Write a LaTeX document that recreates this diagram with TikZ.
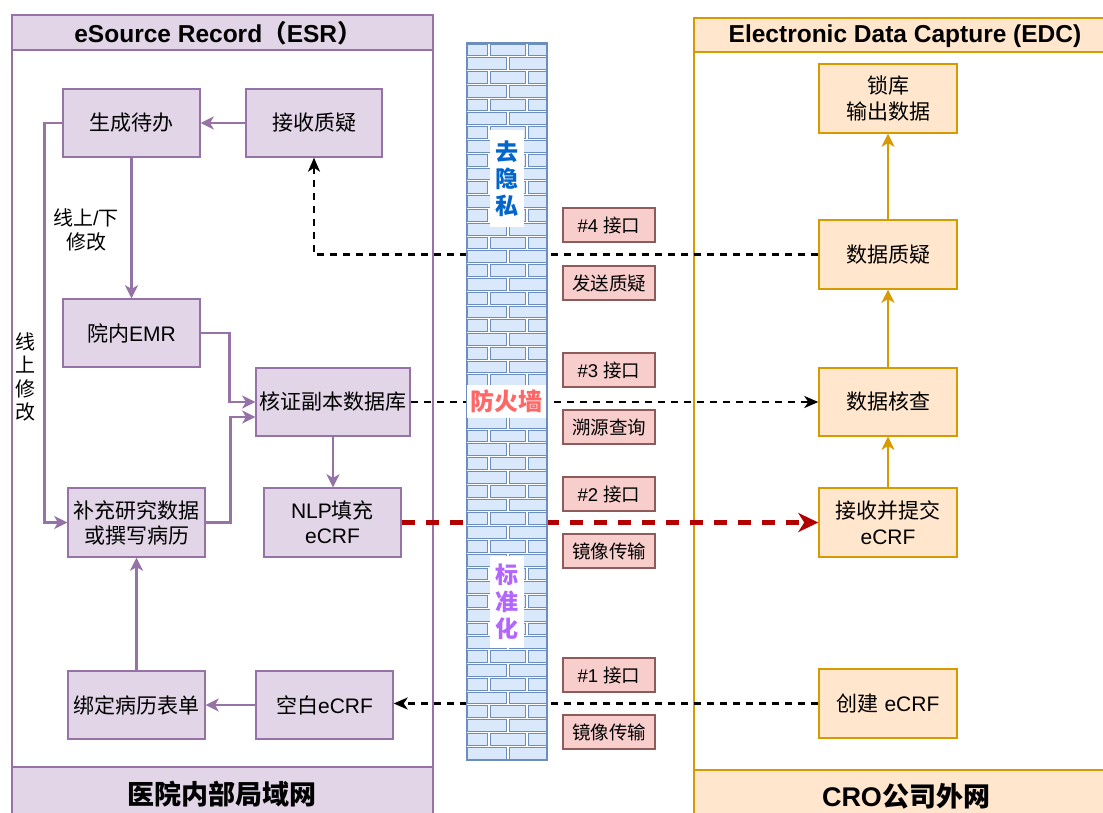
\documentclass[tikz,border=0pt]{standalone}
\usepackage{fontspec}
\setmainfont{Liberation Sans}
\newfontfamily\cjkf{Noto Sans CJK SC}
\newcommand\zh[1]{{\cjkf #1}}
\usetikzlibrary{arrows.meta}
\definecolor{purpF}{HTML}{E1D5E7}
\definecolor{purpS}{HTML}{9673A6}
\definecolor{oranF}{HTML}{FFE6CC}
\definecolor{oranS}{HTML}{D79B00}
\definecolor{pinkF}{HTML}{F8CECC}
\definecolor{pinkS}{HTML}{8E5A5A}
\definecolor{wallF}{HTML}{DAE8FC}
\definecolor{wallS}{HTML}{6C8EBF}
\definecolor{redA}{HTML}{B20000}
\definecolor{blueT}{HTML}{0066CC}
\definecolor{redT}{HTML}{FF6666}
\definecolor{violT}{HTML}{B266FF}
\begin{document}
\begin{tikzpicture}[x=1pt,y=-1pt,
  pbox/.style={draw=purpS, fill=purpF, line width=1.4pt, inner sep=0pt, align=center,
    minimum width=137pt, minimum height=68pt, font=\fontsize{21}{25}\selectfont},
  obox/.style={draw=oranS, fill=oranF, line width=1.4pt, inner sep=0pt, align=center,
    minimum width=138pt, minimum height=69pt, font=\fontsize{21}{26}\selectfont},
  lbox/.style={draw=pinkS, fill=pinkF, line width=1.1pt, inner sep=0pt, align=center,
    minimum width=92pt, minimum height=34pt, font=\fontsize{18.5}{21}\selectfont},
  parr/.style={draw=purpS, line width=2.5pt, -{Stealth[length=13pt,width=13pt,inset=3.5pt]}},
  oarr/.style={draw=oranS, line width=2.5pt, -{Stealth[length=13pt,width=13pt,inset=3.5pt]}},
  bdash/.style={draw=black, line width=2.2pt, dash pattern=on 7pt off 6pt, -{Stealth[length=14pt,width=12pt,inset=4pt]}},
  rdash/.style={draw=redA, line width=4.5pt, dash pattern=on 13pt off 11pt, -{Stealth[length=20pt,width=19pt,inset=6pt]}},
  brick/.style={draw=wallS, fill=wallF, line width=0.9pt},
  walltxt/.style={fill=white, inner sep=0pt, align=center, font=\fontsize{23}{27}\selectfont\bfseries},
  sidetxt/.style={align=center, inner sep=0pt, font=\fontsize{20}{23.5}\selectfont},
  bandtxt/.style={font=\fontsize{27}{30}\selectfont\bfseries, inner sep=0pt},
  headtxt/.style={font=\fontsize{24.5}{28}\selectfont\bfseries, inner sep=0pt}
]
\useasboundingbox (0,0) rectangle (1103,812);
\clip (0,0) rectangle (1103,812);
\fill[white] (0,0) rectangle (1103,812);

% ---------- containers ----------
\draw[purpS, line width=2.5pt] (12,15) rectangle (433,830);
\draw[purpS, fill=purpF, line width=2.5pt] (12,15) rectangle (433,50);
\draw[purpS, fill=purpF, line width=2.5pt] (12,767) rectangle (433,830);
\node[headtxt] (esrh) at (218,33) {eSource Record\zh{（}ESR\zh{）}};
\node[bandtxt] (lan) at (222,794) {\zh{医院内部局域网}};

\draw[oranS, line width=2.5pt] (694,18) rectangle (1120,830);
\draw[oranS, fill=oranF, line width=2.5pt] (694,18) rectangle (1120,52);
\draw[oranS, fill=oranF, line width=2.5pt] (694,770) rectangle (1120,830);
\node[headtxt] (edch) at (905,36) {Electronic Data Capture (EDC)};
\node[bandtxt] (wan) at (906,796) {CRO\zh{公司外网}};

% ---------- left nodes ----------
\node[pbox] (todo) at (131.5,123) {\zh{生成待办}};
\node[pbox, minimum width=136pt] (recv) at (314,123) {\zh{接收质疑}};
\node[pbox] (emr) at (131.5,333) {\zh{院内}EMR};
\node[pbox, minimum width=154pt] (verify) at (333,402) {\zh{核证副本数据库}};
\node[pbox, minimum height=69pt] (supp) at (136.5,522.5) {\zh{补充研究数据}\\\zh{或撰写病历}};
\node[pbox, minimum height=69pt] (nlp) at (332.5,522.5) {NLP\zh{填充}\\eCRF};
\node[pbox] (bind) at (136.5,705) {\zh{绑定病历表单}};
\node[pbox] (blank) at (324.5,705) {\zh{空白}eCRF};

% ---------- right nodes ----------
\node[obox] (lock) at (888,98.5) {\zh{锁库}\\\zh{输出数据}};
\node[obox] (query) at (888,254.5) {\zh{数据质疑}};
\node[obox, minimum height=68pt] (check) at (888,402) {\zh{数据核查}};
\node[obox] (submit) at (888,522.5) {\zh{接收并提交}\\eCRF};
\node[obox] (create) at (888,703.5) {\zh{创建} eCRF};

% ---------- purple connectors ----------
\draw[parr] (recv.west) -- (todo.east);
\draw[parr] (todo.south) -- (emr.north);
\draw[parr] (todo.west) -- ++(-18,0) |- (supp.west);
\draw[parr] (emr.east) -- ++(29,0) |- (verify.west);
\draw[parr] (supp.east) -- ++(25,0) |- ([yshift=-15pt]verify.west);
\draw[parr] (verify.south) -- (verify.south |- nlp.north);
\draw[parr] (blank.west) -- (bind.east);
\draw[parr] (bind.north) -- (supp.south);

\node[sidetxt] (lab1) at (86,230) {\zh{线上}/\zh{下}\\\zh{修改}};
\node[sidetxt] (lab2) at (26,377) {\zh{线}\\\zh{上}\\\zh{修}\\\zh{改}};

% ---------- orange connectors ----------
\draw[oarr] (submit.north) -- (check.south);
\draw[oarr] (check.north) -- (query.south);
\draw[oarr] (query.north) -- (lock.south);

% ---------- cross connectors ----------
\draw[bdash] (query.west) -| (recv.south);
\draw[bdash] (verify.east) -- (check.west);
\draw[rdash] (nlp.east) -- (submit.west);
\draw[bdash] (create.west) -- (create.west -| blank.east);

% ---------- interface labels ----------
\node[lbox] (i4) at (609,225) {\#4 \zh{接口}};
\node[lbox] (i4b) at (609,283) {\zh{发送质疑}};
\node[lbox] (i3) at (609,370) {\#3 \zh{接口}};
\node[lbox] (i3b) at (609,427) {\zh{溯源查询}};
\node[lbox] (i2) at (609,494) {\#2 \zh{接口}};
\node[lbox] (i2b) at (609,551) {\zh{镜像传输}};
\node[lbox] (i1) at (609,675) {\#1 \zh{接口}};
\node[lbox] (i1b) at (609,732) {\zh{镜像传输}};

% ---------- firewall ----------
\fill[white] (466.5,43) rectangle (547,760);
\foreach \i in {0,2,...,50} {
  \pgfmathsetmacro\yt{43+\i*13.788+1}
  \pgfmathsetmacro\yb{43+(\i+1)*13.788-1}
  \draw[brick] (467,\yt) rectangle (487,\yb);
  \draw[brick] (490,\yt) rectangle (525,\yb);
  \draw[brick] (528,\yt) rectangle (547,\yb);
}
\foreach \i in {1,3,...,51} {
  \pgfmathsetmacro\yt{43+\i*13.788+1}
  \pgfmathsetmacro\yb{43+(\i+1)*13.788-1}
  \draw[brick] (467,\yt) rectangle (506,\yb);
  \draw[brick] (509,\yt) rectangle (547,\yb);
}
\draw[wallS, line width=1.1pt] (466.5,43) rectangle (547,760);

\node[walltxt, text=blueT, minimum width=34pt, minimum height=97pt] (w1) at (507,178.5) {\zh{去}\\\zh{隐}\\\zh{私}};
\node[walltxt, text=redT, minimum width=79pt, minimum height=33pt, font=\fontsize{24}{27}\selectfont\bfseries] (w2) at (506.5,401.5) {\zh{防火墙}};
\node[walltxt, text=violT, minimum width=34pt, minimum height=92pt] (w3) at (507,602) {\zh{标}\\\zh{准}\\\zh{化}};
\end{tikzpicture}
\end{document}
